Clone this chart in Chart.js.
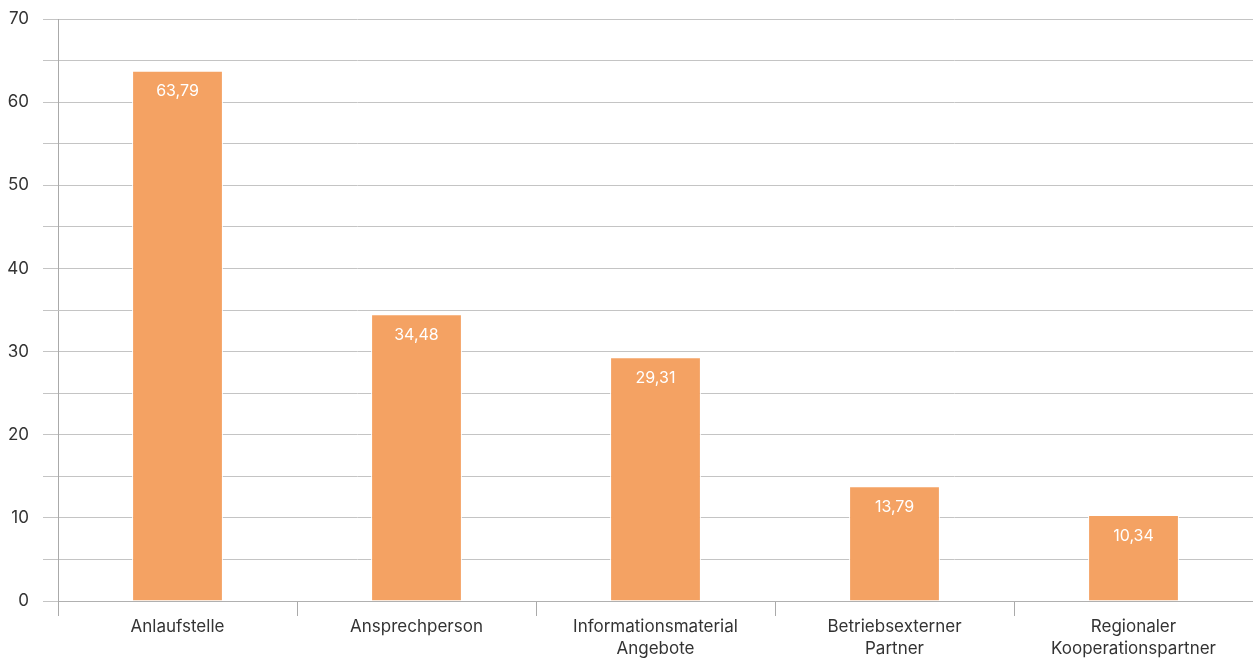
<!DOCTYPE html>
<html lang="de">
<head>
<meta charset="utf-8">
<title>Anlaufstellen</title>
<script src="https://cdn.jsdelivr.net/npm/chart.js@4/dist/chart.umd.min.js"></script>
<style>
  html, body { margin: 0; padding: 0; background: #fff; }
  #wrap { width: 1253px; height: 668px; position: relative; }
</style>
</head>
<body>
<div id="wrap"><canvas id="chart"></canvas></div>
<script>
// Kategorien (mehrzeilige Beschriftungen als Arrays)
const categories = [
  ['Anlaufstelle'],
  ['Ansprechperson'],
  ['Informationsmaterial', 'Angebote'],
  ['Betriebsexterner', 'Partner'],
  ['Regionaler', 'Kooperationspartner']
];
// Anteile in Prozent
const values = [63.79, 34.48, 29.31, 13.79, 10.34];
// Achsenbereich und Beschriftungsschritt
const yMin = 0;
const yMax = 70;
const gridStep = 5;
const labelStep = 10;

const fontFamily = 'Inter, "Noto Sans", sans-serif';
const textColor = '#333333';
const fmt = new Intl.NumberFormat('de-DE', { minimumFractionDigits: 2, maximumFractionDigits: 2 });

// Werte weiß innerhalb der Balken, knapp unter der Oberkante
const valueLabels = {
  id: 'valueLabels',
  afterDatasetsDraw(chart) {
    const ctx = chart.ctx;
    const meta = chart.getDatasetMeta(0);
    ctx.save();
    ctx.fillStyle = '#ffffff';
    ctx.font = '16px ' + fontFamily;
    ctx.textAlign = 'center';
    ctx.textBaseline = 'middle';
    meta.data.forEach((bar, i) => {
      ctx.fillText(fmt.format(values[i]), bar.x, bar.y + 21);
    });
    ctx.restore();
  }
};

new Chart(document.getElementById('chart'), {
  type: 'bar',
  data: {
    labels: categories,
    datasets: [{
      data: values,
      backgroundColor: '#F4A263',
      borderColor: '#ffffff',
      borderWidth: 1,
      borderSkipped: 'bottom',
      barPercentage: 0.38,
      categoryPercentage: 1
    }]
  },
  options: {
    responsive: true,
    maintainAspectRatio: false,
    animation: false,
    layout: { padding: { top: 19, right: 0, bottom: 8, left: 0 } },
    plugins: {
      legend: { display: false },
      tooltip: { enabled: false }
    },
    scales: {
      x: {
        offset: true,
        grid: {
          offset: true,
          drawOnChartArea: false,
          drawTicks: true,
          tickLength: 15,
          color: '#aaaaaa',
          lineWidth: 1
        },
        border: { display: true, color: '#b0b0b0', width: 1 },
        ticks: {
          color: textColor,
          font: { family: fontFamily, size: 17, lineHeight: '22px' },
          padding: 0,
          maxRotation: 0,
          autoSkip: false
        }
      },
      y: {
        min: yMin,
        max: yMax,
        afterFit(scale) {
          scale.width = 58;
          scale.paddingTop = 0;
          scale.paddingBottom = 0;
        },
        grid: {
          color: '#c4c4c4',
          lineWidth: 1,
          tickLength: 15,
          drawTicks: true
        },
        border: { display: true, color: '#aaaaaa', width: 1 },
        ticks: {
          stepSize: gridStep,
          color: textColor,
          font: { family: fontFamily, size: 17 },
          padding: 14,
          callback: (v) => (v % labelStep === 0 ? String(v) : '')
        }
      }
    }
  },
  plugins: [valueLabels]
});
</script>
</body>
</html>
